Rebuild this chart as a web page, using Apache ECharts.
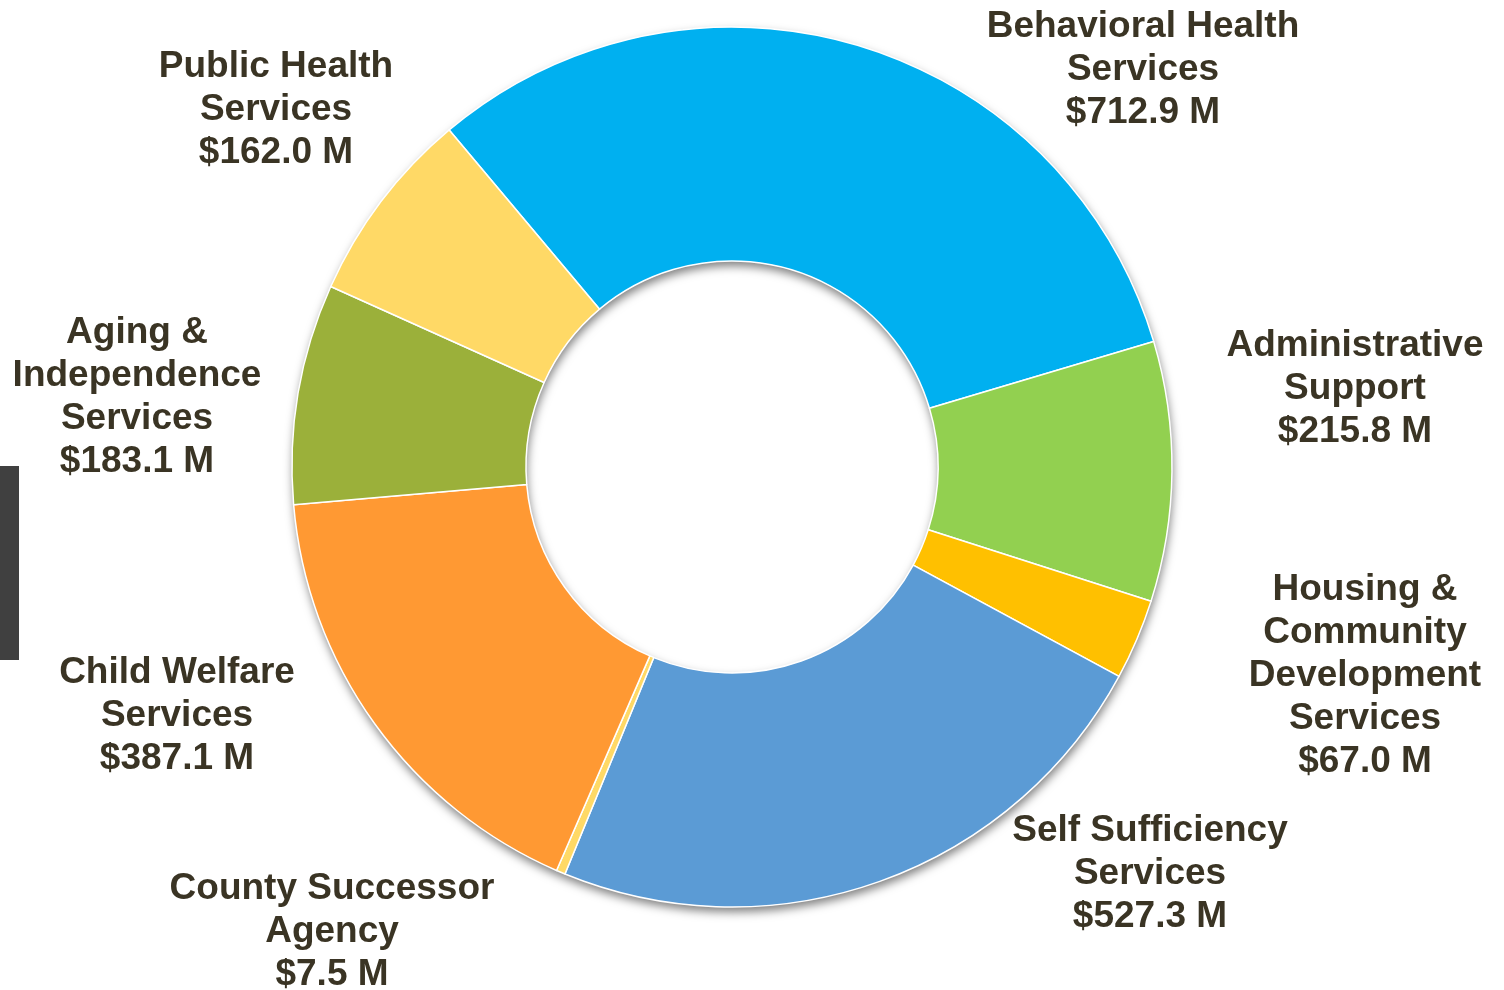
<!DOCTYPE html>
<html>
<head>
<meta charset="utf-8">
<script src="https://cdn.jsdelivr.net/npm/echarts@6/dist/echarts.min.js"></script>
<style>
  html, body { margin: 0; padding: 0; background: #fff; }
  #chart { width: 1504px; height: 990px; }
</style>
</head>
<body>
<div id="chart"></div>
<script>
// budget by department, clockwise from the top
const names = [
  "Behavioral Health\nServices",
  "Administrative\nSupport",
  "Housing &\nCommunity\nDevelopment\nServices",
  "Self Sufficiency\nServices",
  "County Successor\nAgency",
  "Child Welfare\nServices",
  "Aging &\nIndependence\nServices",
  "Public Health\nServices",
];
const values = [712.9, 215.8, 67.0, 527.3, 7.5, 387.1, 183.1, 162.0];
const colors = ["#00B0F0", "#92D050", "#FFC000", "#5B9BD5", "#FFD966", "#FF9933", "#9BB03A", "#FFD966"];

// where each label sits (label centre, px)
const labelPos = [
  [1143, 70], [1355, 389], [1365, 676], [1150, 874],
  [332, 932], [177, 716], [137, 397], [276, 110],
];

let myChart = echarts.init(document.getElementById("chart"));
let seriesData = [];
names.forEach((n, i) => {
  seriesData.push({
    name: n,
    value: values[i],
    itemStyle: { color: colors[i] },
  });
});

let option = {
  animation: false,
  graphic: [
    {
      type: "rect",
      shape: { x: 0, y: 466, width: 19, height: 194 },
      style: { fill: "#404040" },
    },
  ],
  series: [
    {
      // ring behind, only for the drop shadow
      type: "pie",
      center: [732, 467],
      radius: [206, 440],
      silent: true,
      label: { show: false },
      labelLine: { show: false },
      itemStyle: {
        color: "#ffffff",
        shadowBlur: 10,
        shadowOffsetY: 5,
        shadowOffsetX: 1,
        shadowColor: "rgba(0,0,0,0.5)",
      },
      data: [1],
    },
    {
      type: "pie",
      center: [732, 467],
      radius: [206, 440],
      startAngle: 130,
      clockwise: true,
      itemStyle: {
        borderColor: "#ffffff",
        borderWidth: 1.5,
      },
      label: {
        show: true,
        position: "outside",
        edgeDistance: 0,
        overflow: "none",
        color: "#3A3424",
        fontFamily: "Liberation Sans, Arial, sans-serif",
        fontWeight: "bold",
        fontSize: 37,
        lineHeight: 43,
        align: "center",
        formatter: (p) => p.name + "\n$" + p.value.toFixed(1) + " M",
      },
      labelLine: { show: false },
      labelLayout: (params) => {
        const pos = labelPos[params.dataIndex];
        return {
          x: pos[0],
          y: pos[1],
          align: "center",
          verticalAlign: "middle",
        };
      },
      data: seriesData,
    },
  ],
};
myChart.setOption(option);
</script>
</body>
</html>
